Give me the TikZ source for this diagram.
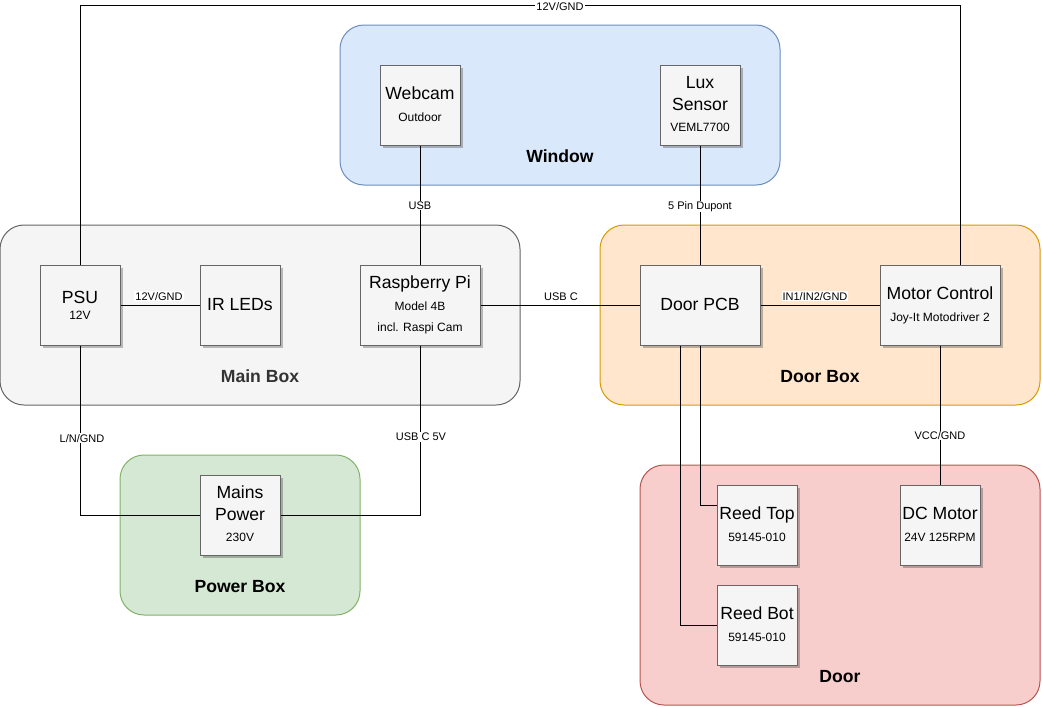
\documentclass[tikz,border=0pt]{standalone}
\usepackage{fontspec}
\setmainfont{Liberation Sans}
\usetikzlibrary{shadows}
\definecolor{cwinF}{HTML}{DAE8FC}\definecolor{cwinD}{HTML}{6C8EBF}
\definecolor{cgrF}{HTML}{F5F5F5}\definecolor{cgrD}{HTML}{666666}
\definecolor{corF}{HTML}{FFE6CC}\definecolor{corD}{HTML}{D79B00}
\definecolor{cgnF}{HTML}{D5E8D4}\definecolor{cgnD}{HTML}{82B366}
\definecolor{crdF}{HTML}{F8CECC}\definecolor{crdD}{HTML}{B85450}
\definecolor{ctxt}{HTML}{333333}
\begin{document}
\begin{tikzpicture}[x=1pt,y=-1pt,
  cont/.style={rounded corners=24pt, line width=1pt, inner sep=0pt, minimum width=#1},
  partbox/.style={draw=cgrD, fill=cgrF, line width=1pt, inner sep=0pt, minimum width=#1, minimum height=80pt,
    general shadow={fill=black, opacity=0.25, shadow xshift=3pt, shadow yshift=-3pt}},
  bt/.style={font=\fontsize{17.6}{21}\selectfont, anchor=base, inner sep=0pt},
  st/.style={font=\fontsize{12}{14}\selectfont, anchor=base, inner sep=0pt},
  et/.style={font=\fontsize{11}{13}\selectfont, anchor=base, fill=white, inner xsep=1pt, inner ysep=0.8pt},
  ht/.style={font=\bfseries\fontsize{17.6}{21}\selectfont, anchor=base, inner sep=0pt},
  wire/.style={line width=1pt, draw=black}]
\useasboundingbox (0,0) rectangle (1042,707);
% containers
\node[cont=440pt, minimum height=160pt, fill=cwinF, draw=cwinD] (window) at (560,105) {};
\node[cont=520pt, minimum height=180pt, fill=cgrF, draw=cgrD] (mainbox) at (260,315) {};
\node[cont=440pt, minimum height=180pt, fill=corF, draw=corD] (doorbox) at (820,315) {};
\node[cont=240pt, minimum height=160pt, fill=cgnF, draw=cgnD] (powerbox) at (240,535) {};
\node[cont=400pt, minimum height=240pt, fill=crdF, draw=crdD] (door) at (840,585) {};
\node[ht] (windowlbl) at (560,162.3) {Window};
\node[ht, text=ctxt] (mainlbl) at (260,382.3) {Main Box};
\node[ht] (doorboxlbl) at (820,382.3) {Door Box};
\node[ht] (powerlbl) at (240,592) {Power Box};
\node[ht] (doorlbl) at (840,682) {Door};
% parts
\node[partbox=80pt] (webcam) at (420,105) {};
\node[partbox=80pt] (lux) at (700,105) {};
\node[partbox=80pt] (psu) at (80,305) {};
\node[partbox=80pt] (irled) at (240,305) {};
\node[partbox=120pt] (rpi) at (420,305) {};
\node[partbox=120pt] (pcb) at (700,305) {};
\node[partbox=120pt] (motor) at (940,305) {};
\node[partbox=80pt] (mains) at (240,515) {};
\node[partbox=80pt] (rtop) at (757,525) {};
\node[partbox=80pt] (dcm) at (940,525) {};
\node[partbox=80pt] (rbot) at (757,625) {};
% connectors
\coordinate (topy) at (0,5);
\coordinate (motorin) at ([xshift=20pt]motor.north);
\draw[wire] (psu.north) -- (psu.north |- topy) -- (motorin |- topy) -- (motorin);
\draw[wire] (psu.east) -- (irled.west);
\draw[wire] (webcam.south) -- (rpi.north);
\draw[wire] (lux.south) -- (pcb.north);
\draw[wire] (rpi.east) -- (pcb.west);
\draw[wire] (pcb.east) -- (motor.west);
\draw[wire] (motor.south) -- (dcm.north);
\draw[wire] (pcb.south) |- ([yshift=20pt]rtop.west);
\draw[wire] ([xshift=-20pt]pcb.south) |- (rbot.west);
\draw[wire] (psu.south) |- (mains.west);
\draw[wire] (rpi.south) |- (mains.east);
% edge labels
\node[et] (l1) at (560,10) {12V/GND};
\node[et] (l2) at (159,300) {12V/GND};
\node[et] (l3) at (420,209.3) {USB};
\node[et] (l4) at (700,209.3) {5 Pin Dupont};
\node[et] (l5) at (561,300) {USB C};
\node[et] (l6) at (815,300) {IN1/IN2/GND};
\node[et] (l7) at (940,439.3) {VCC/GND};
\node[et] (l8) at (82,442) {L/N/GND};
\node[et] (l9) at (421,440.7) {USB C 5V};
% part texts
\node[bt] (t1) at (420,99.3) {Webcam};
\node[st] (t2) at (420,121) {Outdoor};
\node[bt] (t3) at (700,88.3) {Lux};
\node[bt] (t4) at (700,110.3) {Sensor};
\node[st] (t5) at (700,131.7) {VEML7700};
\node[bt] (t6) at (80,303.3) {PSU};
\node[st] (t7) at (80,319) {12V};
\node[bt] (t8) at (240,310) {IR LEDs};
\node[bt] (t9) at (420,288.3) {Raspberry Pi};
\node[st] (t10) at (420,310) {Model 4B};
\node[st] (t11) at (420,331.7) {incl. Raspi Cam};
\node[bt] (t12) at (700,310) {Door PCB};
\node[bt] (t13) at (940,299.3) {Motor Control};
\node[st] (t14) at (940,321) {Joy-It Motodriver 2};
\node[bt] (t15) at (240,498.3) {Mains};
\node[bt] (t16) at (240,520.3) {Power};
\node[st] (t17) at (240,541.7) {230V};
\node[bt] (t18) at (757,519.3) {Reed Top};
\node[st] (t19) at (757,541) {59145-010};
\node[bt] (t20) at (940,519.3) {DC Motor};
\node[st] (t21) at (940,541) {24V 125RPM};
\node[bt] (t22) at (757,619.3) {Reed Bot};
\node[st] (t23) at (757,641) {59145-010};
\end{tikzpicture}
\end{document}
